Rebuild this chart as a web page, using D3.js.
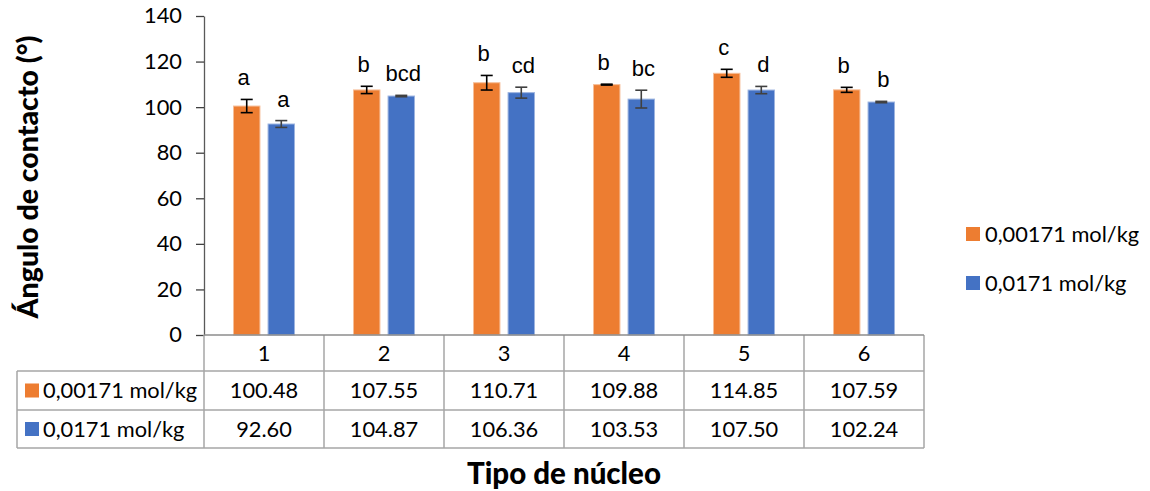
<!DOCTYPE html>
<html>
<head>
<meta charset="utf-8">
<script src="https://cdn.jsdelivr.net/npm/d3@7"></script>
<style>
  html, body { margin: 0; padding: 0; background: #fff; }
  svg { display: block; }
</style>
</head>
<body>
<svg id="chart" width="1150" height="491"></svg>
<script>
// Contact angle per core type, two concentrations
const categories = ["1", "2", "3", "4", "5", "6"];
const seriesNames = ["0,00171 mol/kg", "0,0171 mol/kg"];
const lowConc = [100.48, 107.55, 110.71, 109.88, 114.85, 107.59];
const highConc = [92.60, 104.87, 106.36, 103.53, 107.50, 102.24];
const lowErr = [2.9, 1.6, 3.2, 0.2, 1.75, 1.1];
const highErr = [1.5, 0.3, 2.4, 3.9, 1.6, 0.3];
const lowLetters = ["a", "b", "b", "b", "c", "b"];
const highLetters = ["a", "bcd", "cd", "bc", "d", "b"];
const yTicks = [0, 20, 40, 60, 80, 100, 120, 140];

const colors = ["#ED7D31", "#4472C4"];
const edgeColors = ["#F6BE98", "#9DB4E0"];
const errColors = ["#000000", "#404040"];
const values = [lowConc, highConc];
const errors = [lowErr, highErr];
const letters = [lowLetters, highLetters];

const bodyFont = "Lato, 'Open Sans', sans-serif";
const textSize = 21.8;
const svg = d3.select("#chart");

const plotLeft = 204, plotRight = 924, plotTop = 16, plotBase = 335;
const x = d3.scaleBand().domain(categories).range([plotLeft, plotRight]).paddingInner(0).paddingOuter(0);
const inner = d3.scaleBand().domain([0, 1]).range([29.5, x.bandwidth() - 29.5]).paddingInner(0.235);
const y = d3.scaleLinear().domain([0, 140]).range([plotBase, plotTop]);

// Y axis
const yAxis = svg.append("g")
  .attr("transform", `translate(${plotLeft},0)`)
  .call(d3.axisLeft(y).tickValues(yTicks).tickSize(8).tickSizeOuter(0).tickPadding(14));
yAxis.select(".domain").attr("stroke", "#595959").attr("stroke-width", 1.3);
yAxis.selectAll(".tick line").attr("stroke", "#404040").attr("stroke-width", 1.3);
yAxis.selectAll(".tick text")
  .attr("font-family", bodyFont).attr("font-size", textSize).attr("fill", "#000");

// Bars
const groups = svg.append("g").selectAll("g")
  .data(categories).join("g")
  .attr("transform", d => `translate(${x(d)},0)`);

[0, 1].forEach(s => {
  groups.append("rect")
    .attr("x", inner(s))
    .attr("width", inner.bandwidth())
    .attr("y", (d, i) => y(values[s][i]))
    .attr("height", (d, i) => plotBase - y(values[s][i]))
    .attr("fill", colors[s])
    .attr("stroke", edgeColors[s])
    .attr("stroke-width", 1);
});

// Error bars
[0, 1].forEach(s => {
  const cx = inner(s) + inner.bandwidth() / 2;
  const eb = groups.append("g").attr("stroke", errColors[s]).attr("stroke-width", 1.6);
  eb.append("line")
    .attr("x1", cx).attr("x2", cx)
    .attr("y1", (d, i) => y(values[s][i] + errors[s][i]))
    .attr("y2", (d, i) => y(values[s][i] - errors[s][i]));
  eb.append("line")
    .attr("x1", cx - 6).attr("x2", cx + 6)
    .attr("y1", (d, i) => y(values[s][i] + errors[s][i]))
    .attr("y2", (d, i) => y(values[s][i] + errors[s][i]));
  eb.append("line")
    .attr("x1", cx - 6).attr("x2", cx + 6)
    .attr("y1", (d, i) => y(values[s][i] - errors[s][i]))
    .attr("y2", (d, i) => y(values[s][i] - errors[s][i]));
});

// Significance letters
[0, 1].forEach(s => {
  const cx = inner(s) + inner.bandwidth() / 2;
  groups.append("text")
    .attr("x", cx + (s === 0 ? -3 : 2))
    .attr("y", (d, i) => y(values[s][i] + errors[s][i]) - 14)
    .attr("text-anchor", "middle")
    .attr("font-family", "'Liberation Sans', Arial, sans-serif")
    .attr("font-size", 22)
    .attr("fill", "#000")
    .text((d, i) => letters[s][i]);
});

// Data table below the axis
const rowTop = [plotBase, 371, 410];
const rowBottom = [371, 410, 448];
const tableLeft = 17;
const grid = svg.append("g").attr("stroke", "#A6A6A6").attr("stroke-width", 1.5).attr("fill", "none");
grid.append("line").attr("x1", tableLeft).attr("x2", plotRight).attr("y1", 371).attr("y2", 371);
grid.append("line").attr("x1", tableLeft).attr("x2", plotRight).attr("y1", 410).attr("y2", 410);
grid.append("line").attr("x1", tableLeft).attr("x2", plotRight).attr("y1", 448).attr("y2", 448);
grid.append("line").attr("x1", tableLeft).attr("x2", tableLeft).attr("y1", 371).attr("y2", 448);
const colEdges = categories.map(c => x(c)).concat([plotRight]);
grid.selectAll("line.col").data(colEdges).join("line")
  .attr("class", "col")
  .attr("x1", d => d).attr("x2", d => d)
  .attr("y1", plotBase).attr("y2", 448);
// category axis line
svg.append("line").attr("x1", plotLeft).attr("x2", plotRight).attr("y1", plotBase).attr("y2", plotBase)
  .attr("stroke", "#8C8C8C").attr("stroke-width", 1.6);

// header row: category labels
svg.append("g").selectAll("text").data(categories).join("text")
  .attr("x", d => x(d) + x.bandwidth() / 2)
  .attr("y", (rowTop[0] + rowBottom[0]) / 2)
  .attr("dy", "0.36em")
  .attr("text-anchor", "middle")
  .attr("font-family", bodyFont).attr("font-size", textSize).attr("fill", "#000")
  .text(d => d);

// series rows
[0, 1].forEach(s => {
  const cy = (rowTop[s + 1] + rowBottom[s + 1]) / 2;
  const row = svg.append("g");
  row.append("rect").attr("x", 25).attr("y", cy - 7).attr("width", 14).attr("height", 14).attr("fill", colors[s]);
  row.append("text").attr("x", 43).attr("y", cy).attr("dy", "0.36em")
    .attr("font-family", bodyFont).attr("font-size", textSize).attr("fill", "#000")
    .text(seriesNames[s]);
  row.selectAll("text.v").data(values[s]).join("text")
    .attr("class", "v")
    .attr("x", (d, i) => x(categories[i]) + x.bandwidth() / 2)
    .attr("y", cy).attr("dy", "0.36em")
    .attr("text-anchor", "middle")
    .attr("font-family", bodyFont).attr("font-size", textSize).attr("fill", "#000")
    .text(d => d.toFixed(2));
});

// Legend
const legendY = [234, 283];
[0, 1].forEach(s => {
  const g = svg.append("g");
  g.append("rect").attr("x", 966).attr("y", legendY[s] - 7).attr("width", 14).attr("height", 14).attr("fill", colors[s]);
  g.append("text").attr("x", 985).attr("y", legendY[s]).attr("dy", "0.36em")
    .attr("font-family", bodyFont).attr("font-size", textSize).attr("fill", "#000")
    .text(seriesNames[s]);
});

// Axis titles
svg.append("text")
  .attr("transform", `translate(38,177) rotate(-90)`)
  .attr("text-anchor", "middle")
  .attr("font-family", bodyFont).attr("font-weight", "900").attr("font-size", 28.5).attr("fill", "#000")
  .text("Ángulo de contacto (°)");
svg.append("text")
  .attr("x", 564).attr("y", 484)
  .attr("text-anchor", "middle")
  .attr("font-family", bodyFont).attr("font-weight", "900").attr("font-size", 29.5).attr("fill", "#000")
  .text("Tipo de núcleo");
</script>
</body>
</html>
